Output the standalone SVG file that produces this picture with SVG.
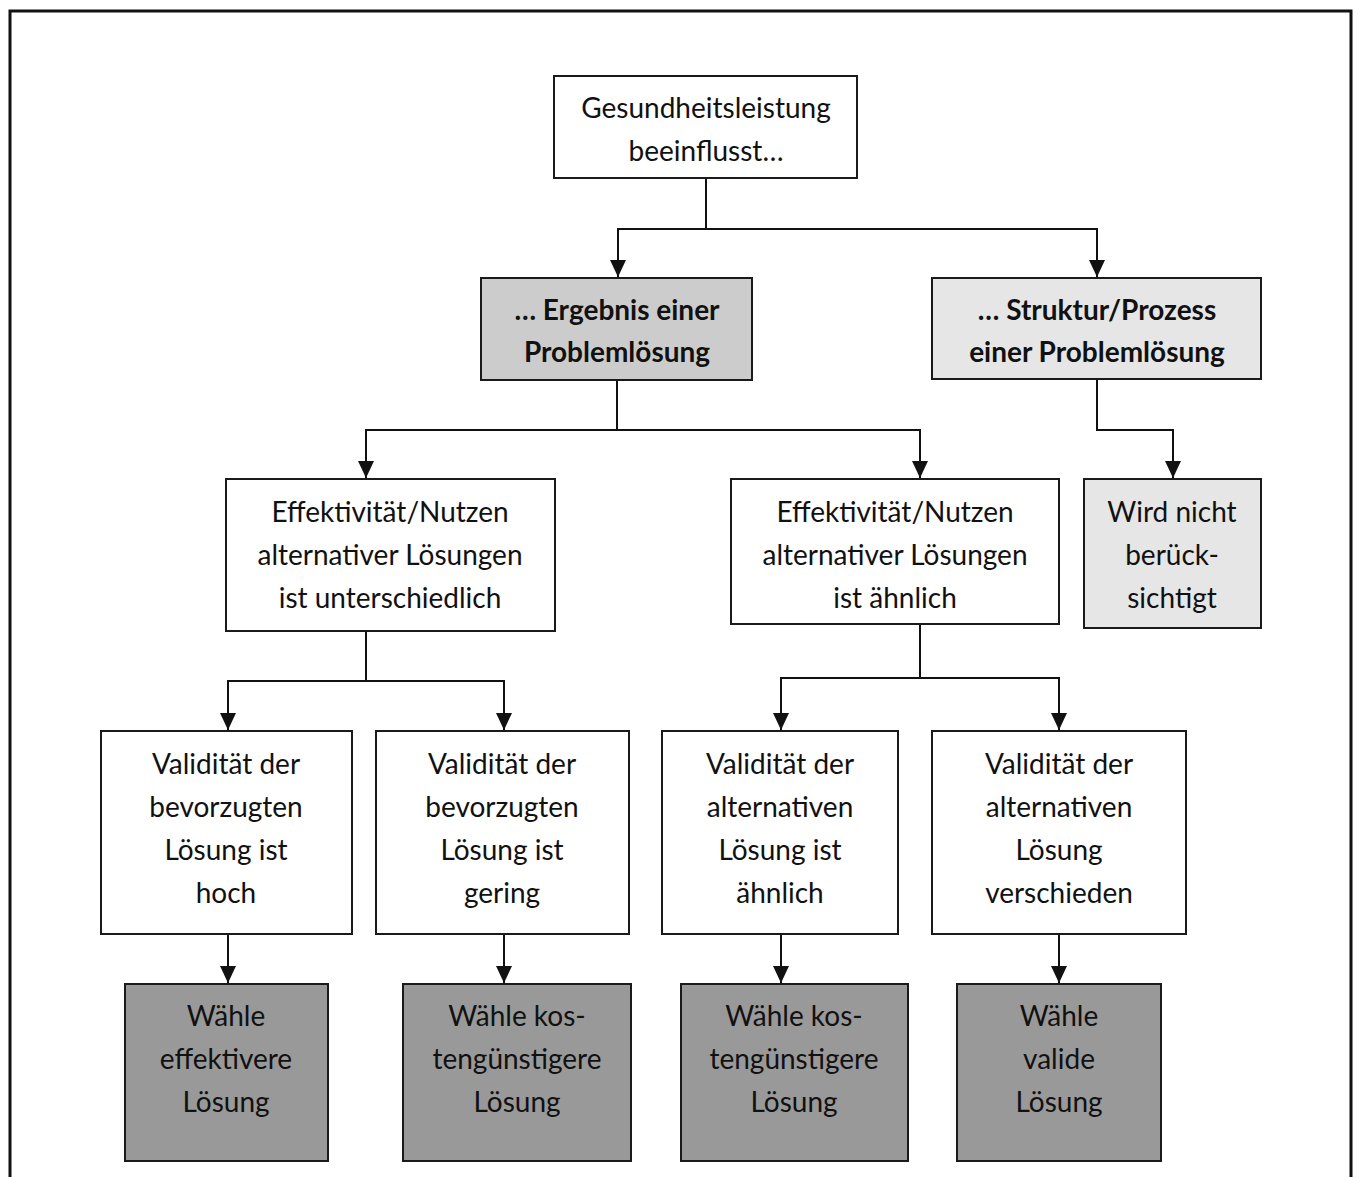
<svg xmlns="http://www.w3.org/2000/svg" width="1359" height="1177" viewBox="0 0 1359 1177">
<style>
.box{stroke:#1a1a1a;stroke-width:2}
.w{fill:#ffffff}
.g1{fill:#cccccc}
.g2{fill:#e6e6e6}
.g3{fill:#999999}
text{font-family:Lato,"Open Sans","Liberation Sans",sans-serif;font-size:28px;fill:#111;text-anchor:middle}
.b{font-weight:bold}
.c{fill:none;stroke:#111;stroke-width:2}
</style>
<defs>
<marker id="ah" markerUnits="userSpaceOnUse" markerWidth="18" markerHeight="16" refX="17" refY="8" orient="auto" viewBox="0 0 18 16">
<path d="M0,0 L17,8 L0,16 Z" fill="#111"/>
</marker>
</defs>
<rect x="0" y="0" width="1359" height="1177" fill="#fff"/>
<path d="M10,1177 V11 H1351 V1177" fill="none" stroke="#111" stroke-width="3"/>

<g id="connectors">
<path class="c" d="M706,178 V229 H618 V277" marker-end="url(#ah)"/>
<path class="c" d="M706,229 H1097 V277" marker-end="url(#ah)"/>
<path class="c" d="M617,380 V430 H366 V478" marker-end="url(#ah)"/>
<path class="c" d="M617,430 H920 V478" marker-end="url(#ah)"/>
<path class="c" d="M1097,380 V430 H1173 V478" marker-end="url(#ah)"/>
<path class="c" d="M366,631 V681 H228 V730" marker-end="url(#ah)"/>
<path class="c" d="M366,681 H504 V730" marker-end="url(#ah)"/>
<path class="c" d="M920,624 V678 H781 V730" marker-end="url(#ah)"/>
<path class="c" d="M920,678 H1059 V730" marker-end="url(#ah)"/>
<path class="c" d="M228,934 V983" marker-end="url(#ah)"/>
<path class="c" d="M504,934 V983" marker-end="url(#ah)"/>
<path class="c" d="M781,934 V983" marker-end="url(#ah)"/>
<path class="c" d="M1059,934 V983" marker-end="url(#ah)"/>
</g>

<g id="n-top">
<rect class="box w" x="554" y="76" width="303" height="102"/>
<text x="706" y="118">Gesundheitsleistung</text>
<text x="706" y="161">beeinflusst…</text>
</g>

<g id="n-ergebnis">
<rect class="box g1" x="481" y="278" width="271" height="102"/>
<text class="b" x="617" y="320">… Ergebnis einer</text>
<text class="b" x="617" y="362">Problemlösung</text>
</g>

<g id="n-struktur">
<rect class="box g2" x="932" y="278" width="329" height="101"/>
<text class="b" x="1097" y="320">… Struktur/Prozess</text>
<text class="b" x="1097" y="362">einer Problemlösung</text>
</g>

<g id="n-eff1">
<rect class="box w" x="226" y="479" width="329" height="152"/>
<text x="390" y="522">Effektivität/Nutzen</text>
<text x="390" y="565">alternativer Lösungen</text>
<text x="390" y="608">ist unterschiedlich</text>
</g>

<g id="n-eff2">
<rect class="box w" x="731" y="479" width="328" height="145"/>
<text x="895" y="522">Effektivität/Nutzen</text>
<text x="895" y="565">alternativer Lösungen</text>
<text x="895" y="608">ist ähnlich</text>
</g>

<g id="n-wird">
<rect class="box g2" x="1084" y="479" width="177" height="149"/>
<text x="1172" y="522">Wird nicht</text>
<text x="1172" y="565">berück-</text>
<text x="1172" y="608">sichtigt</text>
</g>

<g id="n-val1">
<rect class="box w" x="101" y="731" width="251" height="203"/>
<text x="226" y="774">Validität der</text>
<text x="226" y="817">bevorzugten</text>
<text x="226" y="860">Lösung ist</text>
<text x="226" y="903">hoch</text>
</g>

<g id="n-val2">
<rect class="box w" x="376" y="731" width="253" height="203"/>
<text x="502" y="774">Validität der</text>
<text x="502" y="817">bevorzugten</text>
<text x="502" y="860">Lösung ist</text>
<text x="502" y="903">gering</text>
</g>

<g id="n-val3">
<rect class="box w" x="662" y="731" width="236" height="203"/>
<text x="780" y="774">Validität der</text>
<text x="780" y="817">alternativen</text>
<text x="780" y="860">Lösung ist</text>
<text x="780" y="903">ähnlich</text>
</g>

<g id="n-val4">
<rect class="box w" x="932" y="731" width="254" height="203"/>
<text x="1059" y="774">Validität der</text>
<text x="1059" y="817">alternativen</text>
<text x="1059" y="860">Lösung</text>
<text x="1059" y="903">verschieden</text>
</g>

<g id="n-d1">
<rect class="box g3" x="125" y="984" width="203" height="177"/>
<text x="226" y="1026">Wähle</text>
<text x="226" y="1069">effektivere</text>
<text x="226" y="1112">Lösung</text>
</g>

<g id="n-d2">
<rect class="box g3" x="403" y="984" width="228" height="177"/>
<text x="517" y="1026">Wähle kos-</text>
<text x="517" y="1069">tengünstigere</text>
<text x="517" y="1112">Lösung</text>
</g>

<g id="n-d3">
<rect class="box g3" x="681" y="984" width="227" height="177"/>
<text x="794" y="1026">Wähle kos-</text>
<text x="794" y="1069">tengünstigere</text>
<text x="794" y="1112">Lösung</text>
</g>

<g id="n-d4">
<rect class="box g3" x="957" y="984" width="204" height="177"/>
<text x="1059" y="1026">Wähle</text>
<text x="1059" y="1069">valide</text>
<text x="1059" y="1112">Lösung</text>
</g>
</svg>
